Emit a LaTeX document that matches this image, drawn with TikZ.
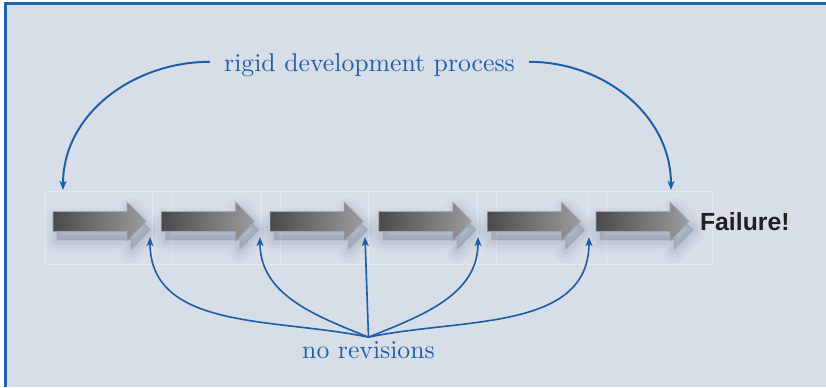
\documentclass[tikz,border=0pt]{standalone}
\usepackage{fontspec}
\newfontfamily\failfont{Liberation Sans}
\newfontfamily\labfont{lmroman10-regular.otf}
\usetikzlibrary{arrows.meta,positioning}
\definecolor{bg}{HTML}{D7DEE8}
\definecolor{frameblue}{HTML}{1F63AC}
\definecolor{lineblue}{HTML}{1D5FA6}
\definecolor{textblue}{HTML}{1F5FA5}
\definecolor{arrdark}{HTML}{4A4A4C}
\definecolor{arrlight}{HTML}{9C9C9E}
\definecolor{shc}{HTML}{4A5B78}
\definecolor{failtext}{HTML}{231F20}
\tikzset{
  frame/.style={draw=frameblue, line width=2.1pt},
  panel/.style={draw=white, draw opacity=0.35, line width=0.5pt},
  slot/.style={minimum width=2.325cm, minimum height=0.975cm, inner sep=0pt, outer sep=0pt},
  blk/.style={draw=arrlight!90!white, line width=0.4pt, line join=miter, left color=arrdark, right color=arrlight,
    preaction={fill=shc, draw=shc, line width=18pt, line join=round, opacity=0.035, transform canvas={shift={(3pt,-6pt)}}},
    preaction={fill=shc, draw=shc, line width=12pt, line join=round, opacity=0.05, transform canvas={shift={(3pt,-6pt)}}},
    preaction={fill=shc, draw=shc, line width=7pt, line join=round, opacity=0.07, transform canvas={shift={(3pt,-6pt)}}},
    preaction={fill=shc, draw=shc, line width=2pt, line join=round, opacity=0.08, transform canvas={shift={(3pt,-6pt)}}}},
  con/.style={draw=lineblue, line width=1.4pt, -{Stealth[length=6.5pt,width=5pt,inset=1.8pt]}},
  conb/.style={con, line width=1.15pt},
  lab/.style={text=textblue, font=\labfont\fontsize{18.3pt}{22pt}\selectfont, inner xsep=0.35cm},
  fail/.style={text=failtext, font=\failfont\bfseries\fontsize{17.6pt}{21pt}\selectfont, inner sep=0pt},
}
\begin{document}
\begin{tikzpicture}[x=0.025cm, y=0.025cm]
  \useasboundingbox (0,0) rectangle (826,387);
  \fill[white] (0,0) rectangle (826,387);
  \fill[bg] (5.5,0) rectangle (826,383.5);
  \draw[frame] (5.5,0) -- (5.5,383.5) -- (826,383.5);
  \draw[panel] (45.5,122.5) rectangle (712,195.5);
  \foreach \x in {152.5,171.5,261.5,280.5,368,477,496,588,606}{
    \draw[panel] (\x,122.5) -- (\x,195.5);
  }
  \foreach \i in {1,...,6}{
    \pgfmathsetmacro\x{99.5+108.6*(\i-1)}
    \path[blk] (\x-46.5,155.5) -- (\x+27.5,155.5) -- (\x+27.5,146) -- (\x+46.5,165.5)
      -- (\x+27.5,185) -- (\x+27.5,175.5) -- (\x-46.5,175.5) -- cycle;
    \node[slot] (s\i) at (\x,165.5) {};
  }
  \node[fail, right=0.27cm of s6] (fail) {Failure!};
  \node[lab, anchor=base, inner ysep=0pt] (rdp) at (369.5,315.7) {rigid development process};
  \node[lab, anchor=base, inner ysep=0.09cm] (nr) at (368.5,29) {no revisions};
  \coordinate (t1) at (63,197);
  \coordinate (t2) at (671,197);
  \foreach \x [count=\i] in {150,260,365,478,589}{
    \coordinate (g\i) at (\x,150);
  }
  \draw[con] ([yshift=0.08cm]rdp.west) to[out=180,in=90] (t1);
  \draw[con] ([yshift=0.08cm]rdp.east) to[out=0,in=90] (t2);
  \draw[conb] (nr.north) to[out=168,in=-90] (g1);
  \draw[conb] (nr.north) to[out=158,in=-90] (g2);
  \draw[conb] (nr.north) -- (g3);
  \draw[conb] (nr.north) to[out=22,in=-90] (g4);
  \draw[conb] (nr.north) to[out=12,in=-90] (g5);
\end{tikzpicture}
\end{document}
